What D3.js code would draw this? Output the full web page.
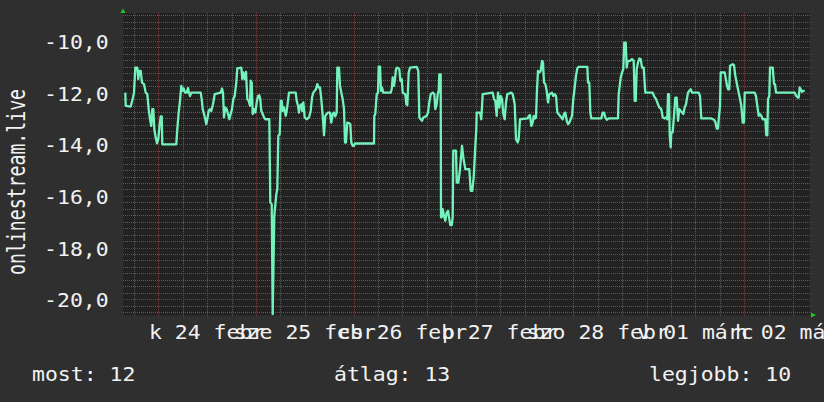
<!DOCTYPE html>
<html><head><meta charset="utf-8">
<script src="https://cdn.jsdelivr.net/npm/d3@7"></script>
<style>html,body{margin:0;padding:0;background:#2f2f2f;}svg{display:block;}</style>
</head><body>
<script>
// Hours since 2015-02-24 00:00 (UTC) of each sample
const hours = [
-8.11,-8.01,-6.78,-6.22,-5.97,-5.65,-5.16,-4.91,-4.67,-4.32,
-4.01,-3.51,-3.10,-2.70,-2.36,-2.04,-1.72,-1.47,-1.23,-0.98,
-0.64,-0.32,0,0.34,0.59,0.84,0.98,4.42,4.67,5.01,
5.33,5.65,5.90,6.24,6.56,6.98,7.30,7.54,7.79,8.11,
10.42,10.66,10.91,11.23,11.55,11.80,12.04,12.38,12.70,13.02,
13.44,13.86,15.33,15.65,15.90,16.14,16.46,16.81,17.13,17.45,
17.79,18.11,18.43,18.77,19.17,19.41,20.40,20.64,20.89,21.30,
21.55,21.87,22.21,22.53,22.71,22.95,23.20,23.52,23.84,24.18,
24.50,24.82,25.06,25.31,25.65,25.97,26.29,27.28,27.52,27.87,
28.11,28.50,29.00,29.24,29.49,29.83,30.08,30.32,30.57,30.89,
31.31,31.55,31.87,32.12,33.76,34.01,34.33,34.57,34.82,35.14,
35.39,35.63,35.97,36.47,37.03,37.45,37.77,38.09,38.43,38.75,
39.07,39.41,39.73,40.05,40.40,40.72,41.04,41.38,41.70,42.19,
42.51,42.86,43.17,43.49,43.84,43.99,44.40,44.65,44.97,45.31,
45.63,45.88,46.12,46.44,46.86,47.18,47.43,47.77,48.09,48.33,
53.00,53.08,53.32,53.67,53.99,54.16,54.48,54.72,54.97,55.29,
57.11,57.35,57.60,57.92,58.16,58.41,58.73,59.22,59.47,59.81,
60.06,60.70,60.94,61.19,61.53,61.85,63.50,63.89,64.14,64.48,
64.80,65.12,65.95,66.27,66.59,66.94,67.43,67.82,68.07,68.41,
68.66,68.90,69.05,69.39,69.47,69.64,69.89,70.21,70.52,70.87,
71.19,71.51,71.75,72.10,72.34,72.49,73.15,73.33,73.72,74.14,
74.63,74.95,75.44,76.42,76.77,77.16,77.50,77.82,78.14,78.24,
79.05,79.37,79.71,82.17,82.49,82.81,83.15,83.47,83.79,84.14,
84.46,84.78,85.12,85.44,85.76,86.74,87.09,87.58,87.90,88.32,
88.56,88.88,90.77,91.02,91.34,91.66,92.00,92.25,92.57,92.81,
93.06,93.30,93.62,93.97,94.29,94.53,94.78,95.10,95.44,95.76,
96.08,96.74,97.06,97.41,97.73,98.05,99.03,99.37,99.69,100.01,
100.36,100.68,101.00,101.34,101.66,101.98,102.32,102.64,102.96,103.30,
105.42,105.59,105.91,106.16,106.40,108.86,109.20,109.52,109.84,110.19,
110.68,112.96,113.13,113.63,113.95,114.26,114.51,114.85,115.10,115.35,
115.91,116.40,116.82,117.07,117.31,117.56,117.88,118.20,118.54,118.86,
119.28,119.67,121.49,121.81,122.30,122.79,123.11,123.60,123.95,124.44,
124.76,125.08,125.25,125.49,125.67,125.91,126.06,126.40,126.72,127.04,
127.38,127.70,128.03,128.37,129.01,129.35,129.67,130.16,130.48,130.83,
131.15,132.79,133.11,133.43,135.89,136.55,136.87,137.22,137.53,137.71,
138.03,138.20,139.18,139.67,139.99,140.31,140.48,141.15,141.47,141.79,
142.28,142.62,142.94,143.26,143.61,143.92,144.10,146.55,146.87,147.19,
147.54,147.86,148.18,148.52,149.16,149.40,149.65,149.82,150.14,150.31,
150.98,151.30,151.54,151.79,156.38,156.77,157.19,157.36,157.61,157.86,
158.17,158.49,158.84
];
// Series values (onlinestream.live)
const values = [
-12.0,-12.51,-12.54,-12.19,-12.0,-11.03,-11.03,-11.48,-11.16,-11.16,
-11.61,-11.67,-12.0,-12.06,-12.64,-13.03,-13.29,-12.64,-12.64,-13.41,
-13.74,-13.96,-13.8,-13.22,-12.92,-12.92,-14.0,-14.0,-13.41,-12.77,
-12.32,-11.74,-11.93,-11.84,-12.0,-12.0,-11.82,-12.0,-12.13,-12.0,
-12.0,-12.25,-12.64,-12.83,-13.03,-13.22,-13.03,-12.71,-12.64,-12.71,
-12.45,-12.06,-12.0,-11.84,-12.0,-12.96,-12.57,-12.64,-12.83,-13.03,
-12.83,-12.64,-12.25,-12.13,-11.61,-11.06,-11.03,-11.48,-11.22,-11.48,
-11.2,-12.25,-12.32,-12.51,-11.54,-11.61,-12.83,-12.64,-12.77,-12.38,
-12.13,-12.1,-12.25,-12.71,-12.83,-12.96,-13.03,-13.03,-16.25,-16.32,
-20.58,-16.77,-15.93,-15.74,-13.67,-13.61,-12.32,-12.32,-12.71,-12.57,
-12.9,-12.71,-12.32,-12.0,-12.0,-12.32,-12.51,-12.77,-12.51,-12.45,
-12.71,-12.38,-12.96,-13.03,-12.96,-12.71,-12.19,-12.0,-11.93,-11.87,
-11.67,-11.8,-11.8,-12.25,-12.9,-13.65,-12.9,-12.83,-12.77,-12.77,
-13.16,-12.83,-12.77,-12.92,-12.77,-11.03,-11.03,-11.74,-12.0,-12.25,
-12.64,-13.93,-13.93,-13.16,-13.18,-13.22,-13.93,-14.06,-14.06,-13.97,
-13.97,-12.9,-12.83,-12.06,-12.0,-10.99,-10.99,-11.93,-11.8,-12.0,
-12.0,-11.87,-11.41,-11.74,-11.48,-11.09,-11.03,-11.09,-11.54,-11.48,
-12.0,-12.06,-12.45,-12.49,-11.22,-11.03,-11.0,-11.16,-12.96,-13.03,
-13.09,-12.96,-12.9,-12.77,-12.38,-12.06,-12.0,-12.06,-12.64,-12.45,
-12.06,-11.93,-11.29,-11.29,-16.83,-16.83,-16.51,-16.77,-16.96,-16.64,
-16.58,-16.9,-17.13,-17.13,-16.83,-14.25,-14.25,-15.48,-15.48,-14.96,
-14.06,-14.51,-14.96,-14.96,-15.8,-15.8,-15.28,-14.32,-13.41,-12.77,
-12.77,-13.03,-12.06,-12.0,-12.25,-12.32,-12.9,-12.0,-12.57,-12.13,
-12.25,-12.83,-13.03,-12.38,-12.06,-12.0,-12.06,-12.45,-13.8,-13.93,
-13.8,-13.03,-13.0,-12.9,-12.87,-13.29,-13.16,-12.9,-13.0,-12.96,
-11.87,-11.16,-11.22,-11.16,-10.77,-10.83,-11.61,-11.67,-11.93,-12.38,
-12.06,-12.0,-12.13,-12.06,-12.13,-12.77,-12.96,-13.03,-12.83,-12.77,
-13.09,-13.22,-13.16,-13.03,-12.9,-12.25,-11.8,-11.35,-11.06,-11.0,
-11.0,-11.61,-11.61,-12.77,-13.0,-13.0,-12.77,-12.77,-12.96,-13.05,
-13.0,-13.0,-12.06,-11.41,-11.22,-11.09,-10.06,-10.06,-11.03,-10.77,
-10.77,-10.7,-10.77,-12.32,-12.32,-11.09,-10.83,-10.68,-10.7,-11.03,
-11.03,-12.0,-12.0,-12.13,-12.25,-12.45,-12.57,-12.64,-12.96,-13.0,
-12.96,-13.03,-12.06,-12.06,-13.67,-14.12,-13.54,-13.54,-12.9,-12.19,
-12.19,-13.09,-12.64,-12.71,-12.83,-12.57,-12.45,-12.0,-11.93,-11.87,
-12.0,-12.0,-12.13,-13.0,-13.0,-13.05,-13.13,-13.39,-13.39,-13.03,
-12.51,-11.22,-11.22,-11.67,-11.87,-11.87,-10.96,-10.9,-10.94,-11.35,
-11.74,-12.0,-12.25,-12.51,-13.16,-13.16,-12.0,-12.0,-12.13,-12.51,
-12.9,-12.83,-12.9,-13.03,-13.03,-13.65,-13.65,-12.25,-12.13,-11.03,
-11.03,-11.67,-11.67,-12.0,-12.0,-12.13,-12.19,-12.19,-11.8,-11.87,
-11.97,-11.93,-11.93
];
const tickLabels = ["k 24 febr","sze 25 febr","cs 26 febr","p 27 febr","szo 28 febr","v 01 márc","h 02 márc"];
const yTicks = [-20,-18,-16,-14,-12,-10];
const legendLabels = ["most: 12","átlag: 13","legjobb: 10"];
const seriesName = "onlinestream.live";

const W = 824, H = 402;
const L = 123, R = 810, T = 13, B = 315.5;
const base = Date.UTC(2015,1,24);
const toDate = h => new Date(base + h*3600e3);
const FONT = "DejaVu Sans Mono";
const SX = 1.13;

const x = d3.scaleUtc().domain([toDate(-8.674), toDate(160.14)]).range([L, R]);
const y = d3.scaleLinear().domain([-20.63, -8.916]).range([B, T]);

const svg = d3.select("body").append("svg").attr("width", W).attr("height", H);
svg.append("rect").attr("width", W).attr("height", H).attr("fill", "#2f2f2f");
svg.append("rect").attr("x", L).attr("y", T).attr("width", R-L).attr("height", B-T).attr("fill", "#222222");

svg.append("defs").append("clipPath").attr("id","clip")
  .append("rect").attr("x", L).attr("y", T).attr("width", R-L).attr("height", B-T);

const grid = svg.append("g").attr("shape-rendering","crispEdges");
const minorY = d3.range(-20.5, -8.9, 0.25).filter(v => Math.abs(v/2 - Math.round(v/2)) > 1e-6);
grid.selectAll("line.hm").data(minorY).join("line")
  .attr("x1", L).attr("x2", R).attr("y1", d => Math.round(y(d))+0.5).attr("y2", d => Math.round(y(d))+0.5)
  .attr("stroke", "#5a5a5a").attr("stroke-dasharray","1,1");
const vt = d3.utcHour.every(6).range(x.domain()[0], x.domain()[1]);
grid.selectAll("line.v").data(vt).join("line")
  .attr("y1", T).attr("y2", B)
  .attr("x1", d => Math.round(x(d))+0.5).attr("x2", d => Math.round(x(d))+0.5)
  .attr("stroke", d => d.getUTCHours() === 0 ? "#8a3535" : "#5a5a5a")
  .attr("stroke-dasharray","1,1");
grid.selectAll("line.hM").data(yTicks).join("line")
  .attr("x1", L).attr("x2", R).attr("y1", d => Math.round(y(d))+0.5).attr("y2", d => Math.round(y(d))+0.5)
  .attr("stroke", "#8a3535").attr("stroke-dasharray","1,1");

const data = hours.map((h,i) => ({t: toDate(h), v: values[i]}));
svg.append("path").datum(data)
  .attr("clip-path","url(#clip)")
  .attr("fill","none").attr("stroke","#74f2bb").attr("stroke-width",2.3).attr("stroke-linejoin","round")
  .attr("d", d3.line().x(d => x(d.t)).y(d => y(d.v)));

svg.append("path").attr("d", `M${L-2.5},${T} L${L+2.5},${T} L${L},${T-4.5} Z`).attr("fill","#1ec81e");
svg.append("path").attr("d", `M${R+1},${B-3} L${R+1},${B+2} L${R+6},${B-0.5} Z`).attr("fill","#1ec81e");

function txt(str, tx, ty, anchor, fs) {
  svg.append("text").text(str)
    .attr("transform", `translate(${tx},${ty}) scale(${SX},1)`)
    .attr("text-anchor", anchor)
    .attr("font-family", FONT).attr("font-size", fs).attr("fill", "#f2f2f2");
}
yTicks.forEach(v => txt(v.toFixed(1).replace(".", ","), 108.7, y(v)+8, "end", 19));
tickLabels.forEach((s,i) => txt(s, x(toDate(12 + 24*i)), 339, "middle", 19));
const legX = [32, 334, 649];
legendLabels.forEach((s,i) => txt(s, legX[i], 381, "start", 19));
svg.append("text").text(seriesName)
  .attr("transform", `translate(25,182) scale(1.4,1) rotate(-90)`)
  .attr("text-anchor","middle")
  .attr("font-family", FONT).attr("font-size", 18.2).attr("fill", "#f2f2f2");
</script>
</body></html>
